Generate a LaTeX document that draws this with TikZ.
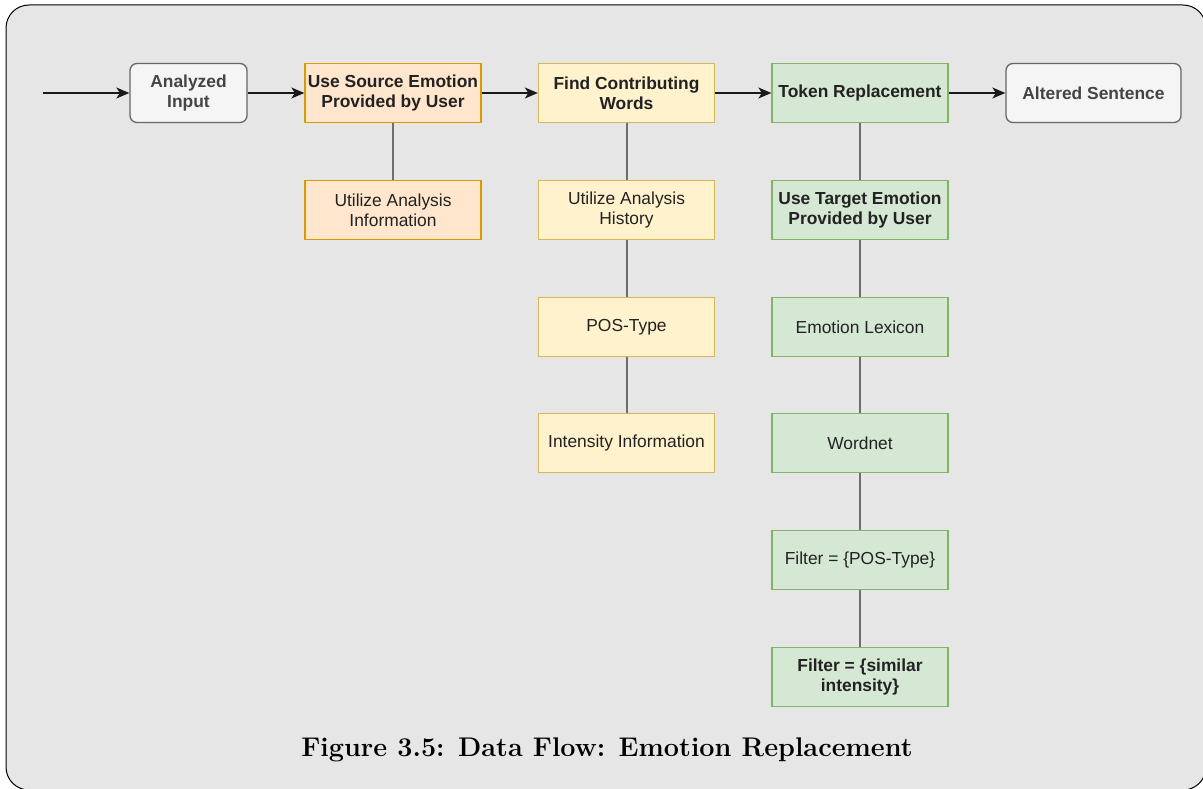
\documentclass[tikz,border=0pt]{standalone}
\usepackage{fontspec}
\newfontfamily\boxfont{Liberation Sans}
\usetikzlibrary{arrows.meta}

\definecolor{panelfill}{HTML}{E6E6E6}
\definecolor{grayfill}{HTML}{F5F5F5}
\definecolor{graystroke}{HTML}{666666}
\definecolor{orangefill}{HTML}{FFE6CC}
\definecolor{orangestroke}{HTML}{D79B00}
\definecolor{yellowfill}{HTML}{FFF2CC}
\definecolor{yellowstroke}{HTML}{D6B656}
\definecolor{greenfill}{HTML}{D5E8D4}
\definecolor{greenstroke}{HTML}{82B366}
\definecolor{linkgray}{HTML}{6E6E6E}
\definecolor{textdark}{HTML}{222222}
\definecolor{textgray}{HTML}{444444}

\tikzset{
  box/.style={draw, line width=1.3pt, minimum width=176pt, minimum height=59pt,
    inner sep=0pt, align=center, text=textdark,
    font=\boxfont\fontsize{17.4pt}{20pt}\selectfont},
  boldbox/.style={box, font=\boxfont\bfseries\fontsize{17.4pt}{20pt}\selectfont},
  endbox/.style={boldbox, rounded corners=7pt, fill=grayfill, draw=graystroke, text=textgray},
  orangebox/.style={fill=orangefill, draw=orangestroke},
  yellowbox/.style={fill=yellowfill, draw=yellowstroke},
  greenbox/.style={fill=greenfill, draw=greenstroke},
  flow/.style={line width=1.5pt, draw=black!90, -{Stealth[length=13pt,width=11pt,inset=3.5pt]}},
  link/.style={line width=2pt, draw=linkgray},
}

\begin{document}
\begin{tikzpicture}[x=1pt,y=-1pt]
\useasboundingbox (0,0) rectangle (1203,789);

% panel behind the diagram
\draw[fill=panelfill, draw=black, line width=1pt, rounded corners=23pt] (6,5) rectangle (1206,790);

% main row
\node[endbox, minimum width=117pt] (ai) at (188.5,93) {Analyzed\\Input};
\node[boldbox, orangebox] (src) at (393,93) {Use Source Emotion\\Provided by User};
\node[boldbox, yellowbox] (fcw) at (626.5,93) {Find Contributing\\Words};
\node[boldbox, greenbox] (tok) at (860,93) {Token Replacement};
\node[endbox, minimum width=175pt] (alt) at (1093.5,93) {Altered Sentence};

% source emotion column
\node[box, orangebox] (uai) at (393,210) {Utilize Analysis\\Information};

% contributing words column
\node[box, yellowbox] (uah) at (626.5,210) {Utilize Analysis\\History};
\node[box, yellowbox] (pos) at (626.5,327) {POS-Type};
\node[box, yellowbox] (ints) at (626.5,443) {Intensity Information};

% replacement column
\node[boldbox, greenbox] (tgt) at (860,210) {Use Target Emotion\\Provided by User};
\node[box, greenbox] (lex) at (860,327) {Emotion Lexicon};
\node[box, greenbox] (wn) at (860,443) {Wordnet};
\node[box, greenbox] (f1) at (860,560) {Filter = \{POS-Type\}};
\node[boldbox, greenbox] (f2) at (860,677) {Filter = \{similar\\intensity\}};

% horizontal data flow
\coordinate (start) at (43,93);
\draw[flow] (start) -- (ai);
\draw[flow] (ai) -- (src);
\draw[flow] (src) -- (fcw);
\draw[flow] (fcw) -- (tok);
\draw[flow] (tok) -- (alt);

% vertical links
\draw[link] (src) -- (uai);
\draw[link] (fcw) -- (uah);
\draw[link] (uah) -- (pos);
\draw[link] (pos) -- (ints);
\draw[link] (tok) -- (tgt);
\draw[link] (tgt) -- (lex);
\draw[link] (lex) -- (wn);
\draw[link] (wn) -- (f1);
\draw[link] (f1) -- (f2);

% caption
\node[font=\bfseries\fontsize{27pt}{31pt}\selectfont, inner sep=0pt, anchor=base] (cap) at (607,756.5)
  {Figure 3.5: Data Flow: Emotion Replacement};
\end{tikzpicture}
\end{document}
